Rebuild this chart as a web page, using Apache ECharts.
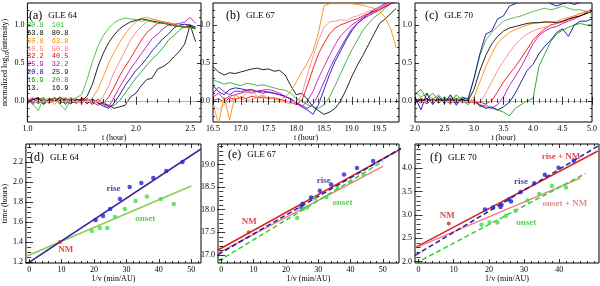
<!DOCTYPE html>
<html><head><meta charset="utf-8">
<script src="https://cdn.jsdelivr.net/npm/echarts@6/dist/echarts.min.js"></script>
<style>html,body{margin:0;padding:0;background:#fff}#c{width:600px;height:286px}</style>
</head><body><div id="c"></div>
<script>
// ---------- DATA ----------
// panel (a) GLE 64
const tA = [1.00,1.05,1.10,1.15,1.20,1.25,1.30,1.35,1.40,1.45,1.50,1.55,1.60,1.65,1.70,1.75,1.80,1.85,1.90,1.95,2.00,2.05,2.10,2.15,2.20,2.25,2.30,2.35,2.40,2.45,2.50,2.55];
const a1 = [0.03,-0.04,-0.13,0.04,-0.02,0.05,-0.05,-0.12,0.02,0.04,0.08,0.28,0.52,0.72,0.86,0.96,1.03,1.07,1.09,1.08,1.07,1.05,1.06,1.04,1.02,1.03,1.00,0.99,0.98,0.97,0.96,0.95];
const a2 = [-0.02,0.01,0.04,-0.05,0.03,-0.01,0.05,0.00,-0.04,0.02,0.00,0.06,0.22,0.45,0.63,0.77,0.87,0.95,1.00,1.04,1.06,1.08,1.07,1.05,1.04,1.02,1.01,0.99,0.98,0.97,0.98,0.95];
const a3 = [0.05,-0.02,0.01,0.03,-0.04,0.04,0.02,-0.02,0.05,-0.03,0.02,-0.02,0.04,0.15,0.32,0.50,0.64,0.77,0.88,0.97,1.04,1.09,1.10,1.08,1.06,1.04,1.02,1.00,0.99,0.98,0.97,0.96];
const a4 = [0.00,0.05,-0.03,0.00,0.04,-0.05,0.02,0.04,-0.02,0.03,-0.04,0.02,0.00,-0.03,0.06,0.20,0.38,0.52,0.66,0.80,0.90,0.98,1.04,1.07,1.06,1.04,1.02,1.00,0.98,0.97,0.96,0.95];
const a5 = [-0.04,0.02,0.04,-0.02,0.01,0.03,-0.04,0.03,0.01,-0.03,0.04,0.00,-0.05,0.02,-0.03,0.05,0.18,0.33,0.45,0.56,0.68,0.80,0.90,0.96,1.02,1.04,1.03,1.01,0.99,0.98,0.97,0.96];
const a6 = [0.03,-0.05,0.02,0.04,-0.03,0.00,0.03,-0.05,0.02,0.00,-0.03,0.03,-0.02,-0.06,0.00,-0.08,0.05,0.18,0.30,0.42,0.52,0.62,0.72,0.82,0.88,0.95,1.00,1.01,1.02,1.04,1.10,1.02];
const a7 = [0.00,0.03,-0.04,0.02,-0.02,0.04,0.00,-0.03,0.04,-0.02,0.03,-0.04,0.02,-0.03,-0.07,-0.10,-0.03,0.08,0.20,0.30,0.40,0.47,0.56,0.66,0.74,0.82,0.88,0.96,1.00,1.01,1.00,0.97];
const a8 = [-0.03,0.02,0.04,-0.04,0.02,0.03,-0.02,0.04,-0.03,0.02,-0.02,0.03,-0.04,0.02,-0.05,-0.08,-0.06,0.00,0.10,0.20,0.30,0.38,0.47,0.55,0.62,0.70,0.80,0.86,0.93,0.98,1.00,0.97];
const a9 = [0.02,-0.03,0.03,0.00,-0.02,0.03,-0.04,0.02,0.00,-0.03,0.03,-0.02,0.02,-0.03,-0.04,-0.06,-0.10,-0.08,-0.06,0.05,0.10,0.20,0.28,0.30,0.42,0.45,0.50,0.58,0.65,0.75,1.00,0.78];
const legendLow  = ['80.8','63.8','50.8','40.5','32.2','25.9','20.8','16.9','13.'];
const legendHigh = ['101','80.8','63.8','50.8','40.5','32.2','25.9','20.8','16.9'];

// panel (b) GLE 67
const tB = [16.5,16.6,16.7,16.8,16.9,17.0,17.1,17.2,17.3,17.4,17.5,17.6,17.7,17.8,17.9,18.0,18.1,18.2,18.3,18.4,18.5,18.6,18.7,18.8,18.9,19.0,19.1,19.2,19.3,19.4,19.5,19.6,19.7,19.8];
const bBlack   = [0.45,0.38,0.34,0.37,0.36,0.38,0.40,0.42,0.43,0.41,0.42,0.39,0.40,0.34,0.20,0.08,0.10,0.02,-0.08,-0.13,-0.18,-0.15,-0.10,0.00,0.15,0.32,0.47,0.60,0.74,0.88,1.02,1.08,1.15,1.22];
const bGreen   = [0.27,0.25,0.22,0.24,0.22,0.20,0.23,0.22,0.20,0.21,0.19,0.17,0.15,0.14,0.10,0.03,0.00,-0.05,-0.08,-0.10,-0.05,0.05,0.20,0.36,0.52,0.67,0.80,0.93,1.02,1.10,1.15,1.22,1.28,1.30];
const bBlue    = [0.20,0.12,0.08,0.15,0.17,0.16,0.14,0.15,0.12,0.13,0.11,0.10,0.08,0.06,0.02,-0.02,-0.08,-0.12,-0.18,-0.05,0.15,0.35,0.52,0.66,0.80,0.92,1.02,1.08,1.15,1.20,1.24,1.28,1.30,1.32];
const bPurple  = [0.10,0.18,0.12,0.08,0.13,0.12,0.14,0.13,0.12,0.10,0.12,0.10,0.08,0.05,0.03,-0.03,-0.06,-0.10,-0.05,0.08,0.25,0.42,0.57,0.70,0.83,0.95,1.02,1.08,1.12,1.16,1.20,1.24,1.28,1.30];
const bMagenta = [0.05,0.10,0.02,0.06,0.08,0.10,0.12,0.10,0.13,0.14,0.15,0.13,0.10,0.06,0.02,-0.04,-0.08,0.00,0.12,0.30,0.45,0.60,0.74,0.86,0.93,1.00,1.05,1.10,1.14,1.18,1.22,1.26,1.30,1.33];
const bRed     = [0.00,0.03,-0.02,0.04,0.02,0.05,0.03,0.06,0.04,0.05,0.03,0.04,0.02,0.00,-0.02,-0.05,0.00,0.20,0.42,0.62,0.76,0.88,0.96,1.00,1.03,1.06,1.08,1.12,1.15,1.18,1.20,1.24,1.28,1.32];
const bPink    = [-0.05,-0.12,-0.05,0.00,0.02,0.03,0.00,0.02,0.04,0.03,0.05,0.02,0.00,-0.02,-0.04,-0.02,0.08,0.35,0.58,0.80,0.97,1.04,1.05,1.07,1.06,1.10,1.12,1.15,1.18,1.20,1.24,1.27,1.30,1.32];
const bOrange  = [-0.05,-0.30,0.05,-0.25,0.08,0.03,0.10,0.15,0.05,0.08,0.02,0.04,0.00,0.05,0.12,0.25,0.38,0.50,0.65,0.90,1.25,1.28,1.28,1.28,1.28,1.28,1.27,1.26,1.24,1.22,1.18,1.10,0.95,0.70];

// panel (c) GLE 70
const tC = [2.0,2.1,2.2,2.3,2.4,2.5,2.6,2.7,2.8,2.9,3.0,3.1,3.2,3.3,3.4,3.5,3.6,3.7,3.8,3.9,4.0,4.1,4.2,4.3,4.4,4.5,4.6,4.7,4.8,4.9,5.0];
const cBlue1   = [0.05,-0.12,0.10,-0.05,0.06,-0.04,0.08,-0.06,0.04,0.02,0.30,0.62,0.88,0.92,1.08,1.12,1.25,1.28,1.35,1.35,1.35,1.35,1.35,1.28,1.25,1.28,1.30,1.27,1.30,1.33,1.35];
const cGreen1  = [0.12,0.05,0.10,0.02,0.08,0.00,0.06,0.02,0.05,0.03,0.28,0.60,0.80,0.90,0.98,1.05,1.08,1.10,1.12,1.15,1.18,1.20,1.22,1.20,1.22,1.25,1.22,1.20,1.20,1.18,1.15];
const cBlack   = [0.02,0.00,0.03,-0.02,0.02,0.00,0.03,-0.01,0.02,0.00,0.15,0.40,0.60,0.75,0.85,0.92,0.96,0.98,1.00,1.02,1.03,1.03,1.04,1.04,1.03,1.05,1.08,1.10,1.12,1.15,1.18];
const cOrange  = [0.00,0.04,-0.02,0.03,0.00,0.02,-0.03,0.02,0.00,-0.02,0.05,0.25,0.45,0.62,0.76,0.84,0.90,0.94,0.97,1.00,1.02,1.03,1.04,1.03,1.05,1.08,1.10,1.12,1.15,1.17,1.20];
const cPink    = [0.03,-0.02,0.02,0.00,0.03,-0.02,0.02,0.00,-0.03,0.01,0.00,-0.02,0.10,0.25,0.40,0.52,0.64,0.74,0.82,0.88,0.92,0.95,0.97,0.99,1.02,1.05,1.08,1.12,1.15,1.18,1.20];
const cRed     = [-0.02,0.03,0.00,0.02,-0.03,0.02,0.00,0.03,-0.02,0.00,-0.03,-0.02,-0.04,0.00,0.12,0.25,0.35,0.45,0.56,0.68,0.80,0.88,0.95,1.00,1.02,1.04,1.07,1.10,1.12,1.15,1.18];
const cMagenta = [0.02,-0.03,0.03,-0.01,0.02,0.00,-0.03,0.02,0.00,-0.02,0.00,-0.05,-0.08,-0.10,-0.05,0.05,0.20,0.32,0.45,0.60,0.75,0.86,0.92,0.96,0.98,1.02,1.05,1.08,1.12,1.16,1.22];
const cBlue2   = [-0.03,0.02,-0.04,0.03,-0.02,0.03,0.00,-0.03,0.02,-0.02,0.00,-0.06,-0.10,-0.08,-0.12,-0.08,-0.02,0.10,0.25,0.40,0.48,0.62,0.72,0.80,0.90,0.95,0.85,1.00,1.05,1.05,1.08];
const cGreen2  = [0.08,0.15,0.02,0.10,0.00,0.05,-0.05,0.08,0.00,-0.05,0.02,-0.08,-0.05,-0.10,-0.12,-0.15,-0.20,-0.10,-0.05,0.00,0.03,0.45,0.62,0.78,0.88,0.93,0.97,1.00,1.02,1.00,1.00];

// panel (d) GLE 64
const dRiseX  = [20.5,22.8,25.0,28.0,31.0,34.6,38.3,42.3,47.3];
const dRiseY  = [1.62,1.66,1.73,1.83,1.95,1.99,2.04,2.11,2.20];
const dOnsetX = [19.3,21.8,24.1,26.5,29.5,32.8,36.3,40.6,44.6];
const dOnsetY = [1.51,1.54,1.54,1.65,1.73,1.81,1.855,1.83,1.78];
const dNM = [9.5,1.40];
const dRiseLine  = [[-1,1.175],[53,2.33]];
const dOnsetLine = [[-1,1.255],[50,1.96]];

// panel (e) GLE 67
const eRiseX  = [24.8,25.2,27.8,30.5,34.0,38.0,42.0,47.0];
const eRiseY  = [18.06,18.13,18.27,18.42,18.56,18.78,18.92,19.08];
const eOnsetX = [23.5,25.5,26.5,29.0,32.5,36.0,40.0,44.0];
const eOnsetY = [17.82,18.03,18.05,18.25,18.28,18.48,18.62,18.78];
const eNM = [8.5,17.5];
const eRedLine   = [[-1,17.11],[56,19.36]];
const eBlueLine  = [[-1,17.01],[56,19.37]];
const ePinkLine  = [[-1,17.04],[50,18.96]];
const eGreenLine = [[-1,16.86],[50,19.07]];

// panel (f) GLE 70
const fRiseX  = [18.9,21.2,23.3,23.6,25.7,26.3,29.0,32.9,35.9,39.8,44.1];
const fRiseY  = [3.12,3.16,3.17,3.22,3.33,3.29,3.49,3.68,3.86,4.01,4.16];
const fOnsetX = [17.9,20.2,22.4,24.8,27.6,31.0,34.3,37.9,41.9];
const fOnsetY = [2.79,2.84,2.84,2.98,3.09,3.31,3.45,3.62,3.59];
const fNM = [8.6,2.82];
const fRedLine   = [[-1,2.30],[51,4.37]];
const fBlueLine  = [[-1,2.135],[51,4.475]];
const fPinkLine  = [[-1,2.29],[46,3.79]];
const fGreenLine = [[-1,1.96],[47.5,3.89]];

// tick labels
const topYTicks = [0,0.5,1.0];
const aXTicks = [1.0,1.5,2.0,2.5];
const bXTicks = [16.5,17.0,17.5,18.0,18.5,19.0,19.5];
const cXTicks = [2.0,2.5,3.0,3.5,4.0,4.5,5.0];
const dXTicks = [0,10,20,30,40,50];
const dYTicks = [1.2,1.4,1.6,1.8,2.0,2.2];
const eXTicks = [0,10,20,30,40,50];
const eYTicks = [17.0,17.5,18.0,18.5,19.0];
const fXTicks = [0,10,20,30,40];
const fYTicks = [2.0,2.5,3.0,3.5,4.0];
const titles = [['(a)','GLE 64'],['(b)','GLE 67'],['(c)','GLE 70'],['(d)','GLE 64'],['(e)','GLE 67'],['(f)','GLE 70']];

// ---------- BUILD ----------
const FONT = 'Liberation Serif';
const grids=[], xAxes=[], yAxes=[], series=[];
function steps(a,b,s,major){const r=[];for(let v=a;v<=b+1e-9;v+=s){const q=Math.round(v*1000)/1000;if(!major.some(m=>Math.abs(m-q)<1e-6))r.push(q);}return r;}
function addPanel(p){
  const gi=grids.length;
  grids.push({left:p.l,top:p.t,width:p.w,height:p.h,show:true,borderColor:'#000',borderWidth:1,backgroundColor:'rgba(0,0,0,0)'});
  const ts={color:'#000',width:0.8};
  const base={gridIndex:gi,type:'value',splitLine:{show:false},axisLine:{show:false},z:5};
  const xi=xAxes.length, yi=yAxes.length;
  const xMin=steps(p.xMinor[0],p.xMinor[1],p.xMinor[2],p.xMaj);
  const yMin=steps(p.yMinor[0],p.yMinor[1],p.yMinor[2],p.yMaj);
  const lab={fontFamily:FONT,fontSize:8,color:'#000'};
  ['bottom','top'].forEach((pos,k)=>{
    xAxes.push(Object.assign({},base,{min:p.xr[0],max:p.xr[1],position:pos,
      axisTick:{show:true,inside:true,length:4,customValues:p.xMaj,lineStyle:ts},
      axisLabel:k===0?Object.assign({show:true,customValues:p.xMaj,formatter:p.xFmt,margin:3},lab):{show:false},
      name:k===0?p.xName:'',nameLocation:'middle',nameGap:p.xGap,nameTextStyle:lab}));
    xAxes.push(Object.assign({},base,{min:p.xr[0],max:p.xr[1],position:pos,
      axisTick:{show:true,inside:true,length:2,customValues:xMin,lineStyle:ts},axisLabel:{show:false}}));
  });
  ['left','right'].forEach((pos,k)=>{
    yAxes.push(Object.assign({},base,{min:p.yr[0],max:p.yr[1],position:pos,
      axisTick:{show:true,inside:true,length:4,customValues:p.yMaj,lineStyle:ts},
      axisLabel:k===0?Object.assign({show:true,customValues:p.yMaj,formatter:p.yFmt,margin:3},lab):{show:false},
      name:(k===0&&p.yName)?p.yName:'',nameLocation:'middle',nameGap:p.yGap||10,
      nameTextStyle:Object.assign({},lab,{rich:{s:{fontFamily:FONT,fontSize:6,color:'#000',padding:[5,0,0,0]}}})}));
    yAxes.push(Object.assign({},base,{min:p.yr[0],max:p.yr[1],position:pos,
      axisTick:{show:true,inside:true,length:2,customValues:yMin,lineStyle:ts},axisLabel:{show:false}}));
  });
  return {xi,yi};
}
const f1=v=>v.toFixed(1), f0=v=>String(Math.round(v));
const zip=(xs,ys)=>xs.map((x,i)=>[x,ys[i]]);
function curves(ax,t,list,colors){
  list.forEach((ys,i)=>{
    const s={type:'line',xAxisIndex:ax.xi,yAxisIndex:ax.yi,data:zip(t,ys),showSymbol:false,symbol:'none',
      lineStyle:{color:colors[i],width:0.85},clip:true,silent:true,animation:false,z:3};
    if(i===0) s.markLine={silent:true,symbol:'none',label:{show:false},animation:false,
      lineStyle:{color:'#b0b0b0',width:1,type:'solid'},data:[{yAxis:0}]};
    series.push(s);
  });
}
function fitLine(ax,pts,color,dashed,z){
  series.push({type:'line',xAxisIndex:ax.xi,yAxisIndex:ax.yi,data:pts,showSymbol:false,symbol:'none',
    lineStyle:{color,width:1.5,type:dashed?[5,3]:'solid'},clip:true,silent:true,animation:false,z:z||3});
}
function pts(ax,data,color,size){
  series.push({type:'scatter',xAxisIndex:ax.xi,yAxisIndex:ax.yi,data,symbolSize:size||4.5,
    itemStyle:{color},silent:true,animation:false,z:6});
}
function txt(ax,x,y,text,color,size){
  series.push({type:'scatter',xAxisIndex:ax.xi,yAxisIndex:ax.yi,data:[[x,y]],symbolSize:0,silent:true,animation:false,z:8,
    label:{show:true,position:'inside',formatter:text,color,fontFamily:FONT,fontSize:size||9,fontWeight:'bold'}});
}

const topYr=[-0.28,1.29], topYMinor=[-0.2,1.2,0.1];
const A=addPanel({l:21,t:3,w:180,h:119,xr:[1.0,2.6],yr:topYr,xMaj:aXTicks,xMinor:[1.1,2.6,0.1],yMaj:topYTicks,yMinor:topYMinor,
  xFmt:f1,yFmt:f1,xName:'t (hour)',xGap:11,yName:'normalized log{s|10}(intensity)',yGap:10});
const B=addPanel({l:213,t:3,w:186,h:119,xr:[16.5,19.85],yr:topYr,xMaj:bXTicks,xMinor:[16.6,19.8,0.1],yMaj:topYTicks,yMinor:topYMinor,
  xFmt:f1,yFmt:f1,xName:'t (hour)',xGap:11});
const C=addPanel({l:415,t:3,w:182,h:119,xr:[2.0,5.0],yr:topYr,xMaj:cXTicks,xMinor:[2.1,4.9,0.1],yMaj:topYTicks,yMinor:topYMinor,
  xFmt:f1,yFmt:f1,xName:'t (hour)',xGap:11});
const D=addPanel({l:21,t:144,w:180,h:119,xr:[-1,53],yr:[1.19,2.38],xMaj:dXTicks,xMinor:[2,52,2],yMaj:dYTicks,yMinor:[1.25,2.35,0.05],
  xFmt:f0,yFmt:f1,xName:'1/v (min/AU)',xGap:12,yName:'time (hours)',yGap:10});
const E=addPanel({l:218,t:144,w:181,h:119,xr:[-1,55],yr:[16.823,19.453],xMaj:eXTicks,xMinor:[2,54,2],yMaj:eYTicks,yMinor:[16.9,19.4,0.1],
  xFmt:f0,yFmt:f1,xName:'1/v (min/AU)',xGap:12});
const F=addPanel({l:415,t:144,w:184,h:119,xr:[-1,51.3],yr:[1.972,4.52],xMaj:fXTicks,xMinor:[2,50,2],yMaj:fYTicks,yMinor:[2.1,4.5,0.1],
  xFmt:f0,yFmt:f1,xName:'1/v (min/AU)',xGap:12});

const legendColors=['#33bb33','#000000','#ff8800','#ff7777','#ee0000','#bb00bb','#000099','#119911','#000000'];
curves(A,tA,[a9,a8,a7,a6,a5,a4,a3,a2,a1],legendColors.slice().reverse());
curves(B,tB,[bBlack,bGreen,bBlue,bPurple,bMagenta,bRed,bPink,bOrange],['#000000','#22aa22','#0000aa','#7700cc','#cc00cc','#ee0000','#ff8888','#ff8800']);
curves(C,tC,[cGreen2,cBlue2,cMagenta,cRed,cPink,cOrange,cBlack,cGreen1,cBlue1],['#119911','#000088','#bb00bb','#ee0000','#ff8080','#ff8800','#000000','#33bb33','#000099']);

const cRise='#2424d0', cOnset='#44dd44', cNM='#dd2222';
fitLine(D,dOnsetLine,'#88cc55',false);
fitLine(D,dRiseLine,'#3a2aa0',false);
pts(D,zip(dRiseX,dRiseY),cRise); pts(D,zip(dOnsetX,dOnsetY),cOnset); pts(D,[dNM],cNM,4);
txt(D,26.0,1.936,'rise','#1a1a80'); txt(D,35.8,1.633,'onset','#33bb33'); txt(D,11.3,1.325,'NM','#cc2222');

fitLine(E,eRedLine,'#dd2222',false); fitLine(E,ePinkLine,'#ee8080',false);
fitLine(E,eBlueLine,'#2020a0',true,4); fitLine(E,eGreenLine,'#33cc33',true,4);
pts(E,zip(eRiseX,eRiseY),cRise); pts(E,zip(eOnsetX,eOnsetY),cOnset); pts(E,[eNM],cNM,4);
txt(E,31.7,18.65,'rise','#1a1a80'); txt(E,37.5,18.15,'onset','#33bb33'); txt(E,8.7,17.74,'NM','#cc2222');

fitLine(F,fRedLine,'#dd2222',false); fitLine(F,fPinkLine,'#ee8080',false);
fitLine(F,fBlueLine,'#2020a0',true,4); fitLine(F,fGreenLine,'#33cc33',true,4);
pts(F,zip(fRiseX,fRiseY),cRise); pts(F,zip(fOnsetX,fOnsetY),cOnset); pts(F,[fNM],cNM,4);
txt(F,40.5,4.24,'rise + NM','#cc2222'); txt(F,29.1,3.72,'rise','#1a1a80');
txt(F,41.6,3.25,'onset + NM','#e07070'); txt(F,30.6,2.84,'onset','#33bb33'); txt(F,8.2,2.99,'NM','#cc2222');

// graphic: titles + legend
const graphic=[];
const titlePos=[[29,16],[226,16],[425,16],[30,158],[228,155],[430,158]];
titles.forEach((tt,i)=>{
  graphic.push({type:'text',x:titlePos[i][0],y:titlePos[i][1],z:20,silent:true,
    style:{text:'{p|'+tt[0]+'}{g|'+tt[1]+'}',verticalAlign:'middle',
      rich:{p:{fontFamily:FONT,fontSize:12,fill:'#000'},g:{fontFamily:FONT,fontSize:9,fill:'#000',padding:[0,0,0,6]}}}});
});
legendLow.forEach((s,i)=>{
  const y=25+7.9*i;
  graphic.push({type:'text',x:27,y,z:20,silent:true,style:{text:s,fill:legendColors[i],fontFamily:'Liberation Mono',fontSize:7,verticalAlign:'middle'}});
  graphic.push({type:'text',x:51.7,y,z:20,silent:true,style:{text:legendHigh[i],fill:legendColors[i],fontFamily:'Liberation Mono',fontSize:7,verticalAlign:'middle'}});
});

const chart=echarts.init(document.getElementById('c'),null,{renderer:'canvas'});
chart.setOption({animation:false,backgroundColor:'#fff',grid:grids,xAxis:xAxes,yAxis:yAxes,series,graphic});
</script></body></html>
